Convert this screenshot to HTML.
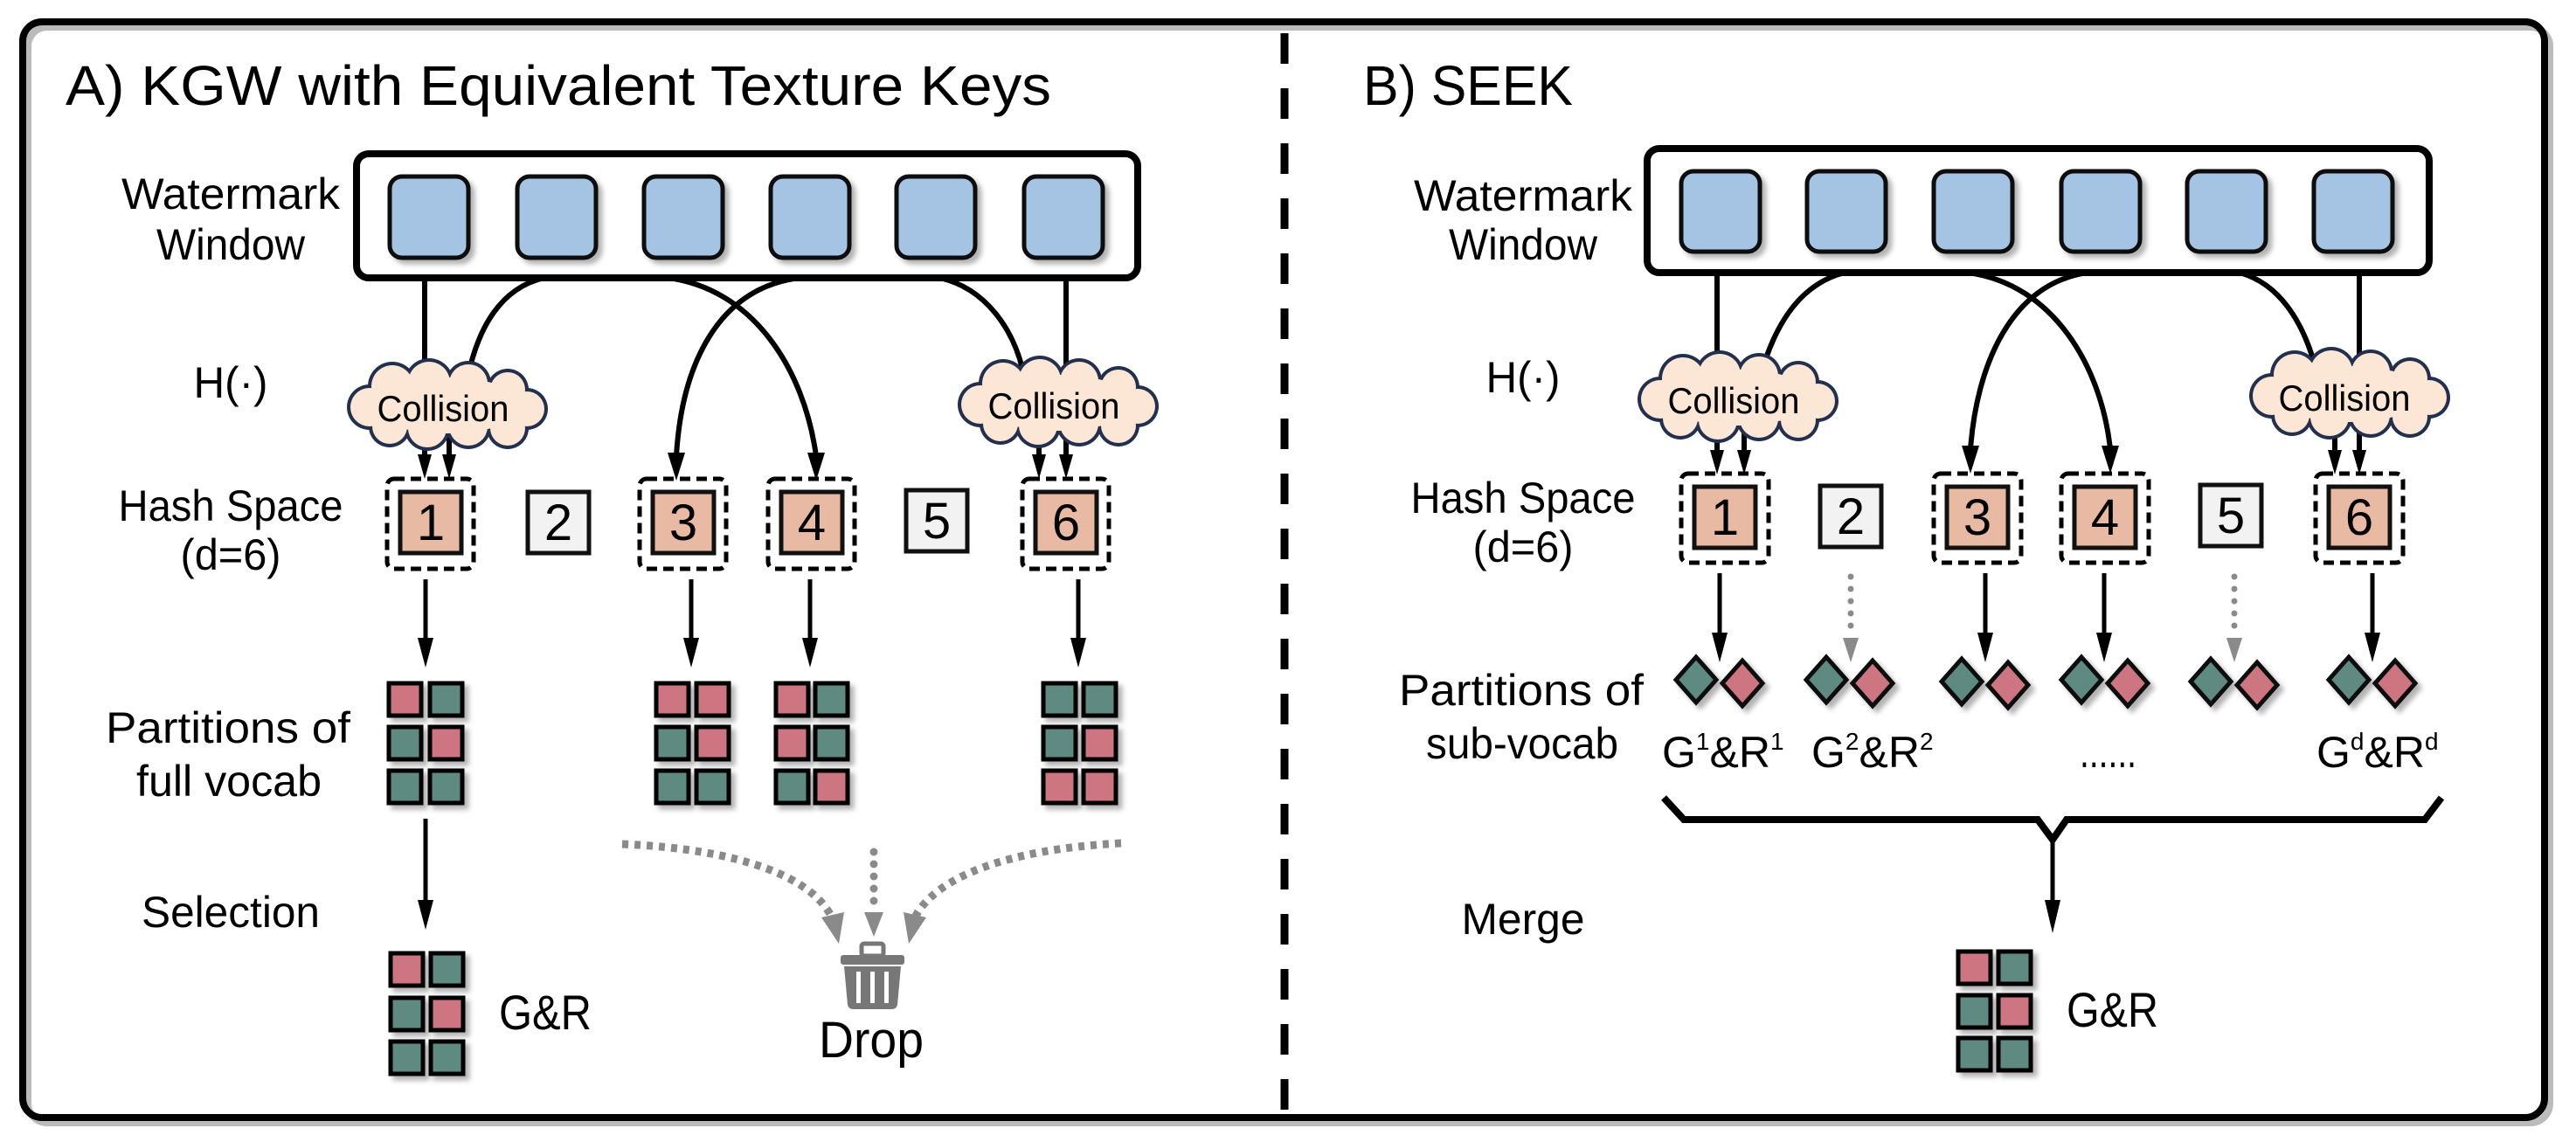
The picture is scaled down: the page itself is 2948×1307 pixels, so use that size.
<!DOCTYPE html>
<html><head><meta charset="utf-8"><style>
html,body{margin:0;padding:0;background:#fff;}
svg{display:block;}
text{font-family:"Liberation Sans Narrow","Liberation Sans",sans-serif;fill:#000;}
</style></head><body>
<svg width="2948" height="1307" viewBox="0 0 2948 1307" xmlns="http://www.w3.org/2000/svg">
<defs>
<filter id="sh" x="-30%" y="-30%" width="170%" height="170%"><feDropShadow dx="5" dy="5" stdDeviation="3" flood-color="#000" flood-opacity="0.3"/></filter>
<g id="cloud">
  <g fill="#22304d">
   <circle cx="-88" cy="2" r="26"/><circle cx="-62" cy="-22" r="28"/><circle cx="-20" cy="-26" r="28"/><circle cx="25" cy="-25" r="26"/><circle cx="70" cy="-18" r="24"/><circle cx="92" cy="4" r="24"/><circle cx="70" cy="26" r="24"/><circle cx="25" cy="24" r="26"/><circle cx="-22" cy="26" r="26"/><circle cx="-65" cy="24" r="24"/>
  </g>
  <g fill="#fce6d6">
   <circle cx="-88" cy="2" r="22"/><circle cx="-62" cy="-22" r="24"/><circle cx="-20" cy="-26" r="24"/><circle cx="25" cy="-25" r="22"/><circle cx="70" cy="-18" r="20"/><circle cx="92" cy="4" r="20"/><circle cx="70" cy="26" r="20"/><circle cx="25" cy="24" r="22"/><circle cx="-22" cy="26" r="22"/><circle cx="-65" cy="24" r="20"/>
   <ellipse cx="0" cy="0" rx="88" ry="32"/>
  </g>
</g>
</defs>

<!-- outer border -->
<rect x="32" y="31" width="2886" height="1254" rx="22" fill="none" stroke="#bbb" stroke-width="8"/>
<rect x="26" y="25" width="2886" height="1254" rx="22" fill="none" stroke="#000" stroke-width="8"/>
<!-- divider -->
<line x1="1470" y1="38" x2="1470" y2="1272" stroke="#000" stroke-width="9" stroke-dasharray="35 28"/>

<!-- titles -->
<text x="75" y="120" font-size="64" textLength="1128" lengthAdjust="spacingAndGlyphs">A) KGW with Equivalent Texture Keys</text>
<text x="1560" y="120" font-size="64" textLength="240" lengthAdjust="spacingAndGlyphs">B) SEEK</text>

<!-- ===== LEFT PANEL ===== -->
<g font-size="50" text-anchor="middle">
<text x="264" y="239" textLength="250" lengthAdjust="spacingAndGlyphs">Watermark</text>
<text x="264" y="297" textLength="170" lengthAdjust="spacingAndGlyphs">Window</text>
<text x="264" y="455" textLength="85" lengthAdjust="spacingAndGlyphs">H(·)</text>
<text x="264" y="596" textLength="257" lengthAdjust="spacingAndGlyphs">Hash Space</text>
<text x="264" y="652" textLength="115" lengthAdjust="spacingAndGlyphs">(d=6)</text>
<text x="261" y="850" textLength="280" lengthAdjust="spacingAndGlyphs">Partitions of</text>
<text x="262" y="911" textLength="212" lengthAdjust="spacingAndGlyphs">full vocab</text>
<text x="264" y="1061" textLength="204" lengthAdjust="spacingAndGlyphs">Selection</text>
</g>

<rect x="408" y="176" width="894" height="142" rx="14" fill="#fff" stroke="#000" stroke-width="8"/>
<g fill="#a5c3e3" stroke="#111" stroke-width="5" filter="url(#sh)">
<rect x="446" y="202" width="90" height="93" rx="14"/><rect x="592" y="202" width="90" height="93" rx="14"/><rect x="737" y="202" width="90" height="93" rx="14"/><rect x="882" y="202" width="90" height="93" rx="14"/><rect x="1026" y="202" width="90" height="93" rx="14"/><rect x="1172" y="202" width="90" height="93" rx="14"/>
</g>

<g fill="none" stroke="#000" stroke-width="6">
<path d="M486 318 V425"/>
<path d="M623 318 C570 330 548 380 538 420"/>
<path d="M764 318 C860 330 920 420 934 522"/>
<path d="M915 318 C820 330 780 420 774 522"/>
<path d="M1075 318 C1130 330 1160 380 1170 422"/>
<path d="M1220 318 V418"/>
<path d="M486 500 V525"/><path d="M514 500 V525"/>
<path d="M1189 500 V525"/><path d="M1220 500 V525"/>
</g>
<g fill="#000">
<polygon points="924,518 944,518 934,550"/><polygon points="764,518 784,518 774,550"/>
<polygon points="478,520 494,520 486,548"/><polygon points="506,520 522,520 514,548"/>
<polygon points="1181,520 1197,520 1189,548"/><polygon points="1212,520 1228,520 1220,548"/>
</g>
<use href="#cloud" x="511" y="464"/>
<use href="#cloud" x="1210" y="461"/>
<text x="507" y="482" font-size="42" text-anchor="middle" textLength="151" lengthAdjust="spacingAndGlyphs">Collision</text>
<text x="1206" y="479" font-size="42" text-anchor="middle" textLength="151" lengthAdjust="spacingAndGlyphs">Collision</text>

<g fill="none" stroke="#000" stroke-width="5" stroke-dasharray="12 7">
<rect x="443" y="548" width="99" height="103" rx="8"/><rect x="732" y="548" width="99" height="103" rx="8"/><rect x="879" y="548" width="99" height="103" rx="8"/><rect x="1170" y="548" width="99" height="103" rx="8"/>
</g>
<g stroke="#111" stroke-width="5">
<rect x="458" y="563" width="70" height="70" fill="#e8baa3"/><rect x="747" y="563" width="70" height="70" fill="#e8baa3"/><rect x="894" y="563" width="70" height="70" fill="#e8baa3"/><rect x="1185" y="563" width="70" height="70" fill="#e8baa3"/>
<rect x="604" y="563" width="70" height="70" fill="#f2f2f2"/><rect x="1037" y="561" width="70" height="70" fill="#f2f2f2"/>
</g>
<g font-size="58" text-anchor="middle">
<text x="493" y="618">1</text><text x="639" y="618">2</text><text x="782" y="618">3</text><text x="929" y="618">4</text><text x="1072" y="616">5</text><text x="1220" y="618">6</text>
</g>

<g stroke="#000" stroke-width="5">
<line x1="487" y1="663" x2="487" y2="740"/><line x1="791" y1="663" x2="791" y2="740"/><line x1="927" y1="663" x2="927" y2="740"/><line x1="1234" y1="663" x2="1234" y2="740"/>
<line x1="487" y1="937" x2="487" y2="1040"/>
</g>
<g fill="#000">
<polygon points="478,730 496,730 487,764"/><polygon points="782,730 800,730 791,764"/><polygon points="918,730 936,730 927,764"/><polygon points="1225,730 1243,730 1234,764"/>
<polygon points="478,1030 496,1030 487,1064"/>
</g>

<!-- grids -->
<g stroke="#000" stroke-width="5" filter="url(#sh)">
<!-- grid1 -->
<rect x="445" y="782" width="37" height="37" fill="#cd7580"/><rect x="492" y="782" width="37" height="37" fill="#5e8a82"/>
<rect x="445" y="832" width="37" height="37" fill="#5e8a82"/><rect x="492" y="832" width="37" height="37" fill="#cd7580"/>
<rect x="445" y="882" width="37" height="37" fill="#5e8a82"/><rect x="492" y="882" width="37" height="37" fill="#5e8a82"/>
<!-- grid3 -->
<rect x="751" y="782" width="37" height="37" fill="#cd7580"/><rect x="797" y="782" width="37" height="37" fill="#cd7580"/>
<rect x="751" y="832" width="37" height="37" fill="#5e8a82"/><rect x="797" y="832" width="37" height="37" fill="#cd7580"/>
<rect x="751" y="882" width="37" height="37" fill="#5e8a82"/><rect x="797" y="882" width="37" height="37" fill="#5e8a82"/>
<!-- grid4 -->
<rect x="888" y="782" width="37" height="37" fill="#cd7580"/><rect x="933" y="782" width="37" height="37" fill="#5e8a82"/>
<rect x="888" y="832" width="37" height="37" fill="#cd7580"/><rect x="933" y="832" width="37" height="37" fill="#5e8a82"/>
<rect x="888" y="882" width="37" height="37" fill="#5e8a82"/><rect x="933" y="882" width="37" height="37" fill="#cd7580"/>
<!-- grid6 -->
<rect x="1194" y="782" width="37" height="37" fill="#5e8a82"/><rect x="1240" y="782" width="37" height="37" fill="#5e8a82"/>
<rect x="1194" y="832" width="37" height="37" fill="#5e8a82"/><rect x="1240" y="832" width="37" height="37" fill="#cd7580"/>
<rect x="1194" y="882" width="37" height="37" fill="#cd7580"/><rect x="1240" y="882" width="37" height="37" fill="#cd7580"/>
<!-- G&R left -->
<rect x="447" y="1091" width="37" height="37" fill="#cd7580"/><rect x="493" y="1091" width="37" height="37" fill="#5e8a82"/>
<rect x="447" y="1142" width="37" height="37" fill="#5e8a82"/><rect x="493" y="1142" width="37" height="37" fill="#cd7580"/>
<rect x="447" y="1192" width="37" height="37" fill="#5e8a82"/><rect x="493" y="1192" width="37" height="37" fill="#5e8a82"/>
</g>
<text x="571" y="1178" font-size="56" textLength="106" lengthAdjust="spacingAndGlyphs">G&amp;R</text>

<!-- drop arrows -->
<g fill="none" stroke="#8a8a8a" stroke-width="9">
<path d="M712 966 C850 972 930 1005 952 1050" stroke-dasharray="7 7"/>
<path d="M1283 965 C1150 972 1070 1005 1047 1050" stroke-dasharray="7 7"/>
<path d="M1000 975 V1045" stroke-dasharray="0 14" stroke-linecap="round"/>
</g>
<g fill="#8a8a8a">
<polygon points="940,1050 966,1044 960,1080"/><polygon points="1034,1044 1060,1050 1040,1080"/><polygon points="989,1044 1011,1044 1000,1072"/>
</g>
<!-- trash -->
<g fill="#777">
<rect x="986" y="1080" width="25" height="14" rx="3" fill="none" stroke="#777" stroke-width="5"/>
<rect x="962" y="1093" width="73" height="11" rx="3"/>
<path d="M966 1106 H1031 L1027 1150 Q1026 1155 1020 1155 H977 Q971 1155 970 1150 Z"/>
</g>
<g fill="#fff"><rect x="980" y="1112" width="5" height="36"/><rect x="996" y="1112" width="5" height="36"/><rect x="1012" y="1112" width="5" height="36"/></g>
<text x="997" y="1210" font-size="58" text-anchor="middle" textLength="120" lengthAdjust="spacingAndGlyphs">Drop</text>

<!-- ===== RIGHT PANEL ===== -->
<g font-size="50" text-anchor="middle">
<text x="1743" y="241" textLength="250" lengthAdjust="spacingAndGlyphs">Watermark</text>
<text x="1743" y="297" textLength="170" lengthAdjust="spacingAndGlyphs">Window</text>
<text x="1743" y="449" textLength="85" lengthAdjust="spacingAndGlyphs">H(·)</text>
<text x="1743" y="587" textLength="257" lengthAdjust="spacingAndGlyphs">Hash Space</text>
<text x="1743" y="643" textLength="115" lengthAdjust="spacingAndGlyphs">(d=6)</text>
<text x="1741" y="807" textLength="280" lengthAdjust="spacingAndGlyphs">Partitions of</text>
<text x="1742" y="868" textLength="220" lengthAdjust="spacingAndGlyphs">sub-vocab</text>
<text x="1743" y="1069" textLength="141" lengthAdjust="spacingAndGlyphs">Merge</text>
</g>

<rect x="1885" y="170" width="895" height="142" rx="14" fill="#fff" stroke="#000" stroke-width="8"/>
<g fill="#a5c3e3" stroke="#111" stroke-width="5" filter="url(#sh)">
<rect x="1924" y="196" width="90" height="92" rx="14"/><rect x="2068" y="196" width="90" height="92" rx="14"/><rect x="2213" y="196" width="90" height="92" rx="14"/><rect x="2359" y="196" width="90" height="92" rx="14"/><rect x="2503" y="196" width="90" height="92" rx="14"/><rect x="2648" y="196" width="90" height="92" rx="14"/>
</g>

<g fill="none" stroke="#000" stroke-width="6">
<path d="M1965 312 V414"/>
<path d="M2111 312 C2060 325 2035 370 2021 410"/>
<path d="M2252 312 C2350 325 2405 420 2415 514"/>
<path d="M2389 312 C2300 325 2262 420 2255 514"/>
<path d="M2563 312 C2610 325 2635 370 2648 414"/>
<path d="M2700 312 V406"/>
<path d="M1965 494 V520"/><path d="M1996 494 V520"/>
<path d="M2672 492 V520"/><path d="M2700 492 V520"/>
</g>
<g fill="#000">
<polygon points="2405,510 2425,510 2415,542"/><polygon points="2245,510 2265,510 2255,542"/>
<polygon points="1957,515 1973,515 1965,543"/><polygon points="1988,515 2004,515 1996,543"/>
<polygon points="2664,515 2680,515 2672,543"/><polygon points="2692,515 2708,515 2700,543"/>
</g>
<use href="#cloud" x="1988" y="455"/>
<use href="#cloud" x="2688" y="451"/>
<text x="1984" y="473" font-size="42" text-anchor="middle" textLength="151" lengthAdjust="spacingAndGlyphs">Collision</text>
<text x="2683" y="470" font-size="42" text-anchor="middle" textLength="151" lengthAdjust="spacingAndGlyphs">Collision</text>

<g fill="none" stroke="#000" stroke-width="5" stroke-dasharray="12 7">
<rect x="1924" y="542" width="100" height="102" rx="8"/><rect x="2213" y="542" width="100" height="102" rx="8"/><rect x="2359" y="542" width="100" height="102" rx="8"/><rect x="2650" y="542" width="100" height="102" rx="8"/>
</g>
<g stroke="#111" stroke-width="5">
<rect x="1939" y="557" width="70" height="70" fill="#e8baa3"/><rect x="2228" y="557" width="70" height="70" fill="#e8baa3"/><rect x="2374" y="557" width="70" height="70" fill="#e8baa3"/><rect x="2665" y="557" width="70" height="70" fill="#e8baa3"/>
<rect x="2083" y="556" width="70" height="70" fill="#f2f2f2"/><rect x="2518" y="555" width="70" height="70" fill="#f2f2f2"/>
</g>
<g font-size="58" text-anchor="middle">
<text x="1974" y="612">1</text><text x="2118" y="611">2</text><text x="2263" y="612">3</text><text x="2409" y="612">4</text><text x="2553" y="610">5</text><text x="2700" y="612">6</text>
</g>

<g stroke="#000" stroke-width="5">
<line x1="1968" y1="656" x2="1968" y2="730"/><line x1="2272" y1="656" x2="2272" y2="730"/><line x1="2408" y1="656" x2="2408" y2="730"/><line x1="2715" y1="656" x2="2715" y2="730"/>
<line x1="2349" y1="961" x2="2349" y2="1035"/>
</g>
<g fill="#000">
<polygon points="1959,724 1977,724 1968,758"/><polygon points="2263,724 2281,724 2272,758"/><polygon points="2399,724 2417,724 2408,758"/><polygon points="2706,724 2724,724 2715,758"/>
<polygon points="2340,1030 2358,1030 2349,1068"/>
</g>
<g stroke="#8a8a8a" stroke-width="7" stroke-linecap="round" stroke-dasharray="0 14" fill="none">
<line x1="2118" y1="660" x2="2118" y2="728"/><line x1="2557" y1="660" x2="2557" y2="728"/>
</g>
<g fill="#8a8a8a">
<polygon points="2109,730 2127,730 2118,758"/><polygon points="2548,730 2566,730 2557,758"/>
</g>

<!-- diamonds -->
<g stroke="#111" stroke-width="5" filter="url(#sh)">
<polygon points="1941,752 1964,778 1941,804 1918,778" fill="#5e8a82"/><polygon points="1994,756 2017,782 1994,808 1971,782" fill="#cd7580"/>
<polygon points="2090,752 2113,778 2090,804 2067,778" fill="#5e8a82"/><polygon points="2143,756 2166,782 2143,808 2120,782" fill="#cd7580"/>
<polygon points="2245,754 2268,780 2245,806 2222,780" fill="#5e8a82"/><polygon points="2298,758 2321,784 2298,810 2275,784" fill="#cd7580"/>
<polygon points="2382,752 2405,778 2382,804 2359,778" fill="#5e8a82"/><polygon points="2435,756 2458,782 2435,808 2412,782" fill="#cd7580"/>
<polygon points="2530,754 2553,780 2530,806 2507,780" fill="#5e8a82"/><polygon points="2583,758 2606,784 2583,810 2560,784" fill="#cd7580"/>
<polygon points="2688,752 2711,778 2688,804 2665,778" fill="#5e8a82"/><polygon points="2741,756 2764,782 2741,808 2718,782" fill="#cd7580"/>
</g>
<g font-size="50">
<text x="1902" y="878">G<tspan font-size="28" dy="-20">1</tspan><tspan dy="20">&amp;R</tspan><tspan font-size="28" dy="-20">1</tspan></text>
<text x="2073" y="878">G<tspan font-size="28" dy="-20">2</tspan><tspan dy="20">&amp;R</tspan><tspan font-size="28" dy="-20">2</tspan></text>
<text x="2380" y="878" textLength="65" lengthAdjust="spacingAndGlyphs">......</text>
<text x="2651" y="878">G<tspan font-size="28" dy="-20">d</tspan><tspan dy="20">&amp;R</tspan><tspan font-size="28" dy="-20">d</tspan></text>
</g>
<polyline points="1904,913 1927,938 2332,938 2349,961 2365,938 2775,938 2794,913" fill="none" stroke="#000" stroke-width="8"/>

<g stroke="#000" stroke-width="5" filter="url(#sh)">
<rect x="2241" y="1089" width="37" height="37" fill="#cd7580"/><rect x="2287" y="1089" width="37" height="37" fill="#5e8a82"/>
<rect x="2241" y="1139" width="37" height="37" fill="#5e8a82"/><rect x="2287" y="1139" width="37" height="37" fill="#cd7580"/>
<rect x="2241" y="1188" width="37" height="37" fill="#5e8a82"/><rect x="2287" y="1188" width="37" height="37" fill="#5e8a82"/>
</g>
<text x="2365" y="1175" font-size="56" textLength="105" lengthAdjust="spacingAndGlyphs">G&amp;R</text>
</svg>
</body></html>
